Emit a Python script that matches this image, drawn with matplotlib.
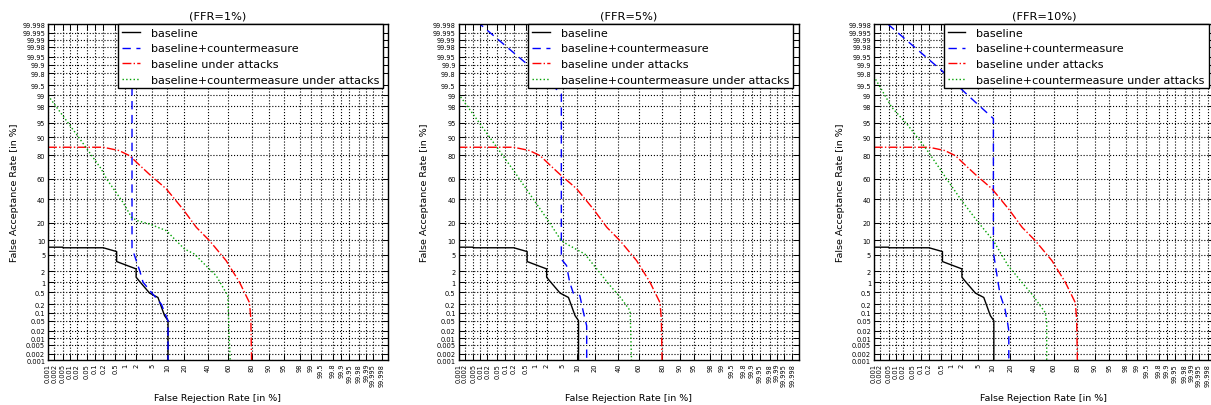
import math
import numpy as np
import matplotlib
matplotlib.use("Agg")
import matplotlib.pyplot as plt

# ---------------------------------------------------------------------------
# DET curves (FRR %, FAR %)
# baseline and baseline-under-attacks are the same in all three panels
# ---------------------------------------------------------------------------
base_frr = [0.001, 0.005, 0.005, 0.2, 0.55, 0.55, 2.0, 2.0, 2.5, 4.3, 6.6, 9.0, 10.5, 10.5]
base_far = [7.3, 7.3, 7.1, 7.1, 5.9, 3.5, 2.3, 1.38, 1.03, 0.47, 0.34, 0.079, 0.051, 0.001]

attack_frr = [0.001, 0.2, 0.65, 1.34, 2.5, 4.3, 9.7, 18.9, 29.3, 41.6, 58.0, 70.5, 78.5, 79.5, 80.0]
attack_far = [85.0, 85.0, 83.0, 79.5, 72.0, 64.0, 50.0, 30.7, 16.9, 9.8, 3.7, 1.0, 0.23, 0.06, 0.001]

# baseline+countermeasure, per FFR setting
cm_frr_1 = [1.55, 1.55, 2.5, 3.0, 4.7, 7.8, 10.5, 10.5]
cm_far_1 = [99.999, 7.0, 2.0, 1.0, 0.5, 0.2, 0.05, 0.001]
cm_frr_5 = [0.007, 0.64, 3.86, 4.6, 4.6, 6.0, 7.0, 8.3, 11.1, 12.9, 14.7, 14.7]
cm_far_5 = [99.9985, 99.89, 99.28, 99.09, 4.0, 2.8, 1.0, 0.47, 0.39, 0.105, 0.032, 0.001]
cm_frr_10 = [0.0045, 0.52, 2.9, 8.9, 10.3, 10.3, 11.5, 12.7, 13.6, 16.5, 18.3, 19.0, 19.0]
cm_far_10 = [99.998, 99.84, 98.99, 96.6, 96.0, 5.7, 2.3, 0.89, 0.44, 0.138, 0.038, 0.02, 0.001]

# baseline+countermeasure under attacks, per FFR setting
cma_frr_1 = [0.001, 0.0265, 0.17, 0.26, 0.86, 1.5, 2.1, 4.3, 9.7, 20.0, 27.8, 39.9, 48.2, 59.7, 61.0, 62.0]
cma_far_1 = [99.0, 89.3, 69.0, 59.7, 36.8, 23.9, 21.5, 19.0, 14.9, 6.7, 5.2, 2.5, 1.52, 0.39, 0.0126, 0.001]
cma_frr_5 = [0.001, 0.18, 0.31, 0.91, 2.2, 4.6, 6.0, 13.7, 21.3, 30.9, 42.0, 50.4, 51.7, 53.0]
cma_far_5 = [99.1, 69.0, 59.7, 38.4, 21.4, 9.8, 8.5, 5.2, 2.3, 0.89, 0.34, 0.138, 0.1, 0.001]
cma_frr_10 = [0.001, 0.0068, 0.034, 0.144, 0.46, 0.74, 1.97, 5.0, 10.3, 18.5, 29.0, 38.1, 51.2, 52.9, 52.9]
cma_far_10 = [99.75, 97.9, 94.2, 85.0, 69.0, 59.7, 38.4, 20.2, 9.8, 2.8, 1.0, 0.44, 0.105, 0.05, 0.001]

titles = ["(FFR=1%)", "(FFR=5%)", "(FFR=10%)"]
cm_curves = [(cm_frr_1, cm_far_1), (cm_frr_5, cm_far_5), (cm_frr_10, cm_far_10)]
cma_curves = [(cma_frr_1, cma_far_1), (cma_frr_5, cma_far_5), (cma_frr_10, cma_far_10)]

tick_vals = [0.001, 0.002, 0.005, 0.01, 0.02, 0.05, 0.1, 0.2, 0.5, 1, 2, 5, 10, 20,
             40, 60, 80, 90, 95, 98, 99, 99.5, 99.8, 99.9, 99.95, 99.98, 99.99,
             99.995, 99.998]
tick_labels = ["0.001", "0.002", "0.005", "0.01", "0.02", "0.05", "0.1", "0.2", "0.5",
               "1", "2", "5", "10", "20", "40", "60", "80", "90", "95", "98", "99",
               "99.5", "99.8", "99.9", "99.95", "99.98", "99.99", "99.995", "99.998"]

# ---------------------------------------------------------------------------
# normal deviate (probit) scale, no scipy needed
# ---------------------------------------------------------------------------
_erf = np.vectorize(math.erf, otypes=[float])


def _cdf(z):
    return 0.5 * (1.0 + _erf(np.asarray(z, float) / math.sqrt(2.0)))


def _ppf(p):
    p = np.clip(np.asarray(p, float), 1e-12, 1 - 1e-12)
    lo = np.full(p.shape, -8.0)
    hi = np.full(p.shape, 8.0)
    for _ in range(50):
        mid = 0.5 * (lo + hi)
        below = _cdf(mid) < p
        lo = np.where(below, mid, lo)
        hi = np.where(below, hi, mid)
    return 0.5 * (lo + hi)


def fwd(v):
    return _ppf(np.asarray(v, float) / 100.0)


def inv(z):
    return 100.0 * _cdf(z)


# ---------------------------------------------------------------------------
# figure
# ---------------------------------------------------------------------------
W, H = 1211, 406
fig = plt.figure(figsize=(W / 100, H / 100), dpi=100)
lefts = [48, 458.5, 873.8]

for i in range(3):
    ax = fig.add_axes([lefts[i] / W, 45 / H, 340 / W, 336 / H])
    ax.set_xscale("function", functions=(fwd, inv))
    ax.set_yscale("function", functions=(fwd, inv))

    ax.plot(base_frr, base_far, color="k", ls="-", lw=1.0, label="baseline")
    ax.plot(*cm_curves[i], color="b", ls=(0, (6, 4)), lw=1.0, label="baseline+countermeasure")
    ax.plot(attack_frr, attack_far, color="r", ls="-.", lw=1.0, label="baseline under attacks")
    ax.plot(*cma_curves[i], color="#00a000", ls=":", lw=1.0,
            label="baseline+countermeasure under attacks")

    ax.set_xlim(0.001, 99.999)
    ax.set_ylim(0.001, 99.998)
    ax.set_xticks(tick_vals)
    ax.set_xticklabels(tick_labels, rotation=90)
    ax.set_yticks(tick_vals)
    ax.set_yticklabels(tick_labels)
    ax.minorticks_off()
    ax.tick_params(direction="in", top=True, right=True, length=4, width=0.7,
                   labelsize=4.8, pad=2)
    ax.grid(True, color="k", ls=":", lw=0.8)
    for s in ax.spines.values():
        s.set_linewidth(1.0)

    ax.set_title(titles[i], fontsize=8.2, pad=4)
    ax.set_xlabel("False Rejection Rate [in %]", fontsize=6.8, labelpad=5)
    ax.set_ylabel("False Acceptance Rate [in %]", fontsize=6.8, labelpad=2.5)

    leg = ax.legend(loc="upper right", bbox_to_anchor=(0.985, 1.0), borderaxespad=0,
                    fontsize=8, fancybox=False, framealpha=1, edgecolor="k",
                    handlelength=1.6, handletextpad=1.0, labelspacing=0.5,
                    borderpad=0.35)
    leg.get_frame().set_linewidth(1.0)

fig.savefig("out.png", dpi=100)
